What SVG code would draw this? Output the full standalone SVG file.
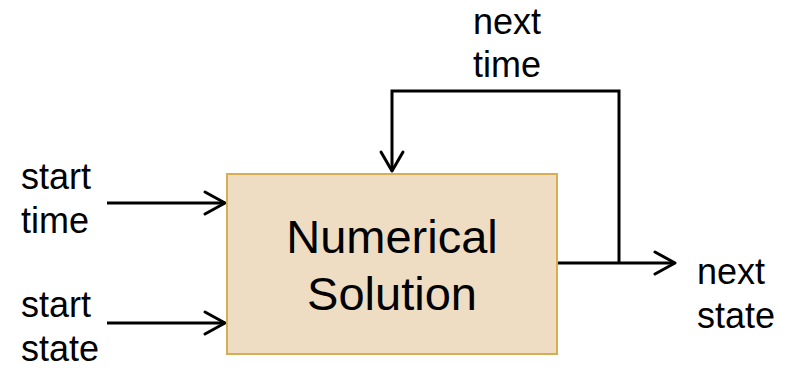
<svg xmlns="http://www.w3.org/2000/svg" width="792" height="368" viewBox="0 0 792 368">
  <style>
    .lbl { font-family: "Liberation Sans", Arial, sans-serif; font-size: 36px; fill: #000; }
    .big { font-family: "Liberation Sans", Arial, sans-serif; font-size: 47px; fill: #000; text-anchor: middle; }
    .wire { fill: none; stroke: #000; stroke-width: 3; }
    .head { fill: none; stroke: #000; stroke-width: 3; stroke-linecap: round; stroke-linejoin: round; }
  </style>
  <rect width="792" height="368" fill="#fff"/>

  <!-- connectors -->
  <g id="connectors">
    <!-- start time input -->
    <line class="wire" x1="107" y1="203" x2="225" y2="203"/>
    <polyline class="head" points="205,192 225,203 205,214"/>
    <!-- start state input -->
    <line class="wire" x1="107" y1="323" x2="225" y2="323"/>
    <polyline class="head" points="205,312 225,323 205,334"/>
    <!-- next state output -->
    <line class="wire" x1="557" y1="263" x2="675" y2="263"/>
    <polyline class="head" points="655,252 675,263 655,274"/>
    <!-- feedback loop: next time -->
    <polyline class="wire" points="619,263 619,91 392,91 392,171"/>
    <polyline class="head" points="381,152 392,171 403,152"/>
  </g>

  <!-- solver block -->
  <g id="numerical-solution">
    <rect x="227" y="174" width="330" height="180" fill="#EEDDC3" stroke="#D8AE55" stroke-width="2"/>
    <text class="big" x="392" y="253">Numerical</text>
    <text class="big" x="392" y="310">Solution</text>
  </g>

  <g id="start-time">
    <text class="lbl" x="21" y="189">start</text>
    <text class="lbl" x="21" y="233">time</text>
  </g>
  <g id="start-state">
    <text class="lbl" x="21" y="317">start</text>
    <text class="lbl" x="21" y="361">state</text>
  </g>
  <g id="next-state">
    <text class="lbl" x="697" y="284">next</text>
    <text class="lbl" x="697" y="328">state</text>
  </g>
  <g id="next-time">
    <text class="lbl" x="507" y="34" text-anchor="middle">next</text>
    <text class="lbl" x="507" y="77" text-anchor="middle">time</text>
  </g>
</svg>
